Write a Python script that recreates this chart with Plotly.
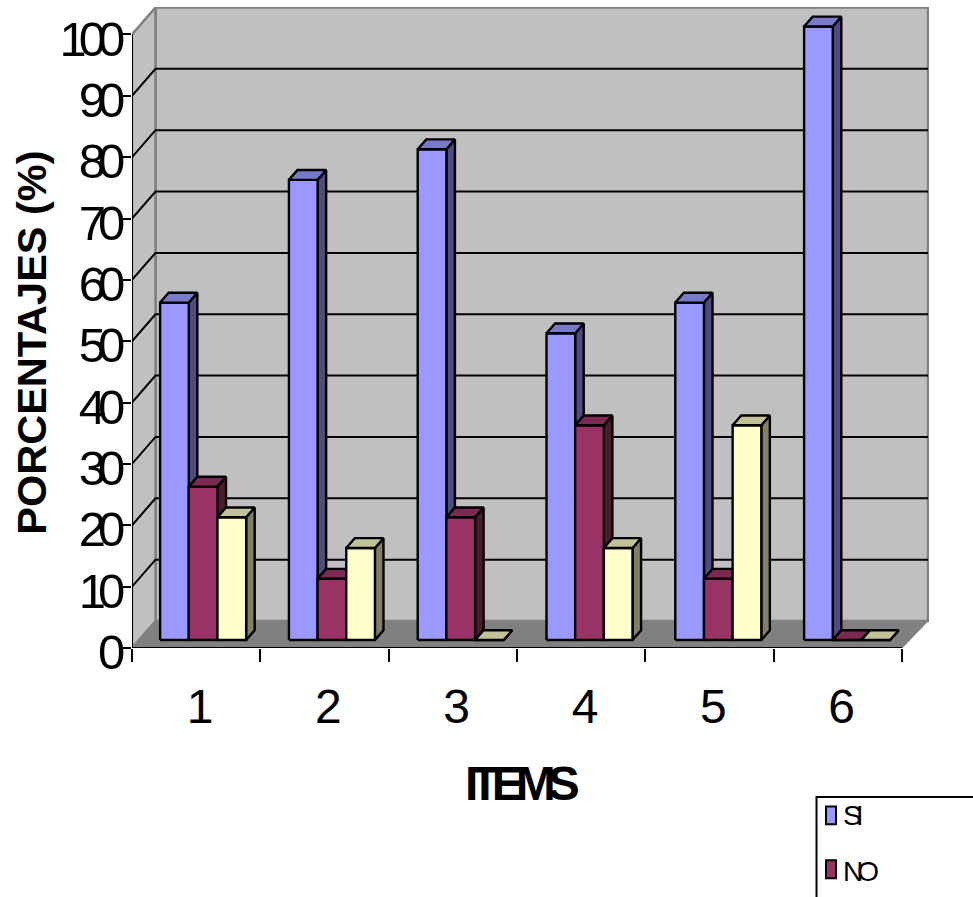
import plotly.graph_objects as go

categories = [1, 2, 3, 4, 5, 6]
si_values = [55, 75, 80, 50, 55, 100]
no_values = [25, 10, 20, 35, 10, 0]
third_values = [20, 15, 0, 15, 35, 0]
y_ticks = list(range(0, 101, 10))

W, H = 973, 897
L, R, T, B = 132, 929, 7, 648.5
CAT_PX, UNIT_PX = 128.33, 6.14
DX, DY = 23.5 / CAT_PX, 27 / UNIT_PX      # projection of full depth
D0, D1 = 0.296, 0.66                       # bar depth span
BAR_W, BAR_START, BAR_PITCH = 0.2234, 0.165, 1.0036
BACK_EXTRA = 0.02                          # back wall slightly wider than the front edge


def pt(x, v, d):
    return x + d * DX, v + d * DY


def poly(xs, ys, corners):
    for c in corners:
        a, b = pt(*c)
        xs.append(a)
        ys.append(b)
    a, b = pt(*corners[0])
    xs.extend([a, None])
    ys.extend([b, None])


def fill_trace(corners_list, fill, line="black", width=2.4):
    xs, ys = [], []
    for c in corners_list:
        poly(xs, ys, c)
    return go.Scatter(x=xs, y=ys, mode="lines", fill="toself", fillcolor=fill,
                      line=dict(color=line, width=width), hoverinfo="skip",
                      showlegend=False, cliponaxis=False)


def line_trace(segments, color="black", width=2):
    xs, ys = [], []
    for seg in segments:
        for c in seg:
            a, b = pt(*c)
            xs.append(a)
            ys.append(b)
        xs.append(None)
        ys.append(None)
    return go.Scatter(x=xs, y=ys, mode="lines", line=dict(color=color, width=width),
                      hoverinfo="skip", showlegend=False, cliponaxis=False)


N = len(categories)
NB = N + BACK_EXTRA
traces = []
# back wall, side wall, floor
traces.append(fill_trace([[(0, 0, 1), (NB, 0, 1), (NB, 100, 1), (0, 100, 1)]], "#C0C0C0", "#808080", 2.5))
traces.append(fill_trace([[(0, 0, 0), (0, 100, 0), (0, 100, 1), (0, 0, 1)]], "#C0C0C0", "#808080", 2.5))
traces.append(fill_trace([[(0, 0, 0), (N, 0, 0), (NB, 0, 1), (0, 0, 1)]], "#808080", "#808080", 1))
grid = []
for v in y_ticks[1:-1]:
    grid.append([(0, v, 0), (0, v, 1), (NB, v, 1)])
traces.append(line_trace(grid))
traces.append(line_trace([[(0, 100, 0), (0, 0, 0), (N, 0, 0)]]))

series = [
    ("SI", si_values, "#9999FF", "#7A7ACC", "#4D4D80"),
    ("NO", no_values, "#993366", "#7A2952", "#4D1A33"),
    ("NS", third_values, "#FFFFCC", "#C2C29A", "#808066"),
]
for k, (name, vals, front, top, side) in enumerate(series):
    fronts, tops, sides = [], [], []
    for i, v in enumerate(vals):
        a = i * BAR_PITCH + BAR_START + k * BAR_W
        b = a + BAR_W
        fronts.append([(a, 0, D0), (b, 0, D0), (b, v, D0), (a, v, D0)])
        tops.append([(a, v, D0), (b, v, D0), (b, v, D1), (a, v, D1)])
        sides.append([(b, 0, D0), (b, 0, D1), (b, v, D1), (b, v, D0)])
    traces.append(fill_trace(sides, side))
    traces.append(fill_trace(fronts, front))
    traces.append(fill_trace(tops, top))

fig = go.Figure(traces)


def px(x):
    return (x - L) / (R - L)


def py(y):
    return (B - y) / (B - T)


shapes = [
    dict(type="rect", xref="paper", yref="paper", x0=px(816.5), x1=px(1010), y0=py(797.5), y1=py(960),
         line=dict(color="black", width=2), fillcolor="white", layer="above"),
]
annotations = []
for (name, vals, front, top, side), sy, ty in zip(series[:2], [816, 870], [816, 872]):
    shapes.append(dict(type="rect", xref="paper", yref="paper", x0=px(826), x1=px(836),
                       y0=py(sy - 9), y1=py(sy + 9), line=dict(color="black", width=2),
                       fillcolor=front, layer="above"))
    annotations.append(dict(text=name, xref="paper", yref="paper", x=px(835), y=py(ty),
                            xanchor="left", yanchor="middle", showarrow=False,
                            font=dict(family="Liberation Sans", size=28, color="black")))
annotations.append(dict(text="<b>PORCENTAJES (%)</b>", xref="paper", yref="paper",
                        x=px(31.5), y=py(343.5), textangle=-90, showarrow=False,
                        xanchor="center", yanchor="middle",
                        font=dict(family="Liberation Sans", size=41.5, color="black")))
annotations.append(dict(text="<b>ITEMS</b>", xref="paper", yref="paper",
                        x=px(518), y=py(784), showarrow=False,
                        xanchor="center", yanchor="middle",
                        font=dict(family="Liberation Sans", size=48, color="black")))

fig.update_layout(
    width=W, height=H, autosize=False,
    margin=dict(l=L, r=W - R, t=T, b=H - B, pad=0),
    paper_bgcolor="white", plot_bgcolor="white",
    font=dict(family="Liberation Sans", color="black"),
    showlegend=False, shapes=shapes, annotations=annotations,
    xaxis=dict(range=[0, (R - L) / CAT_PX], automargin=False, showgrid=False, zeroline=False, showline=False,
               tickmode="array", tickvals=[c - 0.47 for c in categories],
               ticktext=[str(c) for c in categories], ticks="", ticklen=0,
               tickfont=dict(size=48), ticklabelstandoff=26,
               minor=dict(tickmode="array", tickvals=list(range(N + 1)), ticks="outside",
                          ticklen=13, tickwidth=2, tickcolor="black", showgrid=False)),
    yaxis=dict(range=[0, (B - T) / UNIT_PX], automargin=False, showgrid=False, zeroline=False, showline=False,
               tickmode="array", tickvals=y_ticks, ticks="outside", ticklen=9, tickwidth=2,
               tickcolor="black", tickfont=dict(size=49), ticklabelstandoff=-5, ticklabelshift=4),
)

post = """
document.body.style.margin = '0';
function sp(sel, v) { document.querySelectorAll(sel).forEach(function (e) { e.style.letterSpacing = v; }); }
sp('.ytick text', '-8px');
sp('.annotation-text', '-6px');
document.querySelectorAll('.annotation-text').forEach(function (e) {
  var t = e.textContent;
  if (t.indexOf('PORCENTAJES') === 0) { e.style.letterSpacing = '0px'; }
  if (t === 'ITEMS') { e.style.letterSpacing = '-8px'; }
});
"""
fig.write_html("out.html", post_script=post, config=dict(displayModeBar=False))
